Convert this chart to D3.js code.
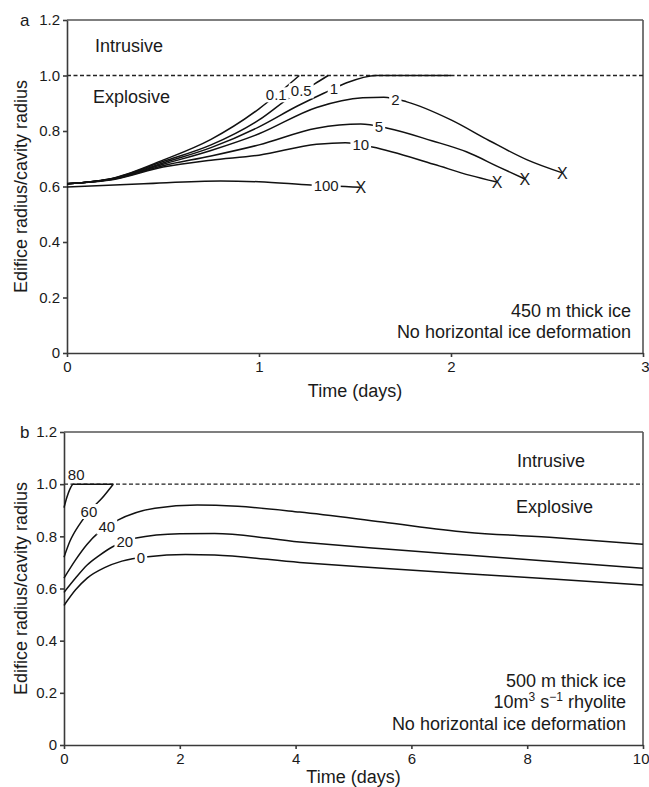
<!DOCTYPE html>
<meta charset="utf-8">
<style>
body { margin: 0; background: #fff; }
text { font-family: "Liberation Sans", Arial, Helvetica, sans-serif; fill: #1a1a1a; }
.axis path, .axis line { stroke: #3a3a3a; stroke-width: 1.6px; }
.axis text { font-size: 15px; fill: #1a1a1a; }
.frame { stroke: #555; stroke-width: 1.6px; }
.curve { fill: none; stroke: #111; stroke-width: 1.5px; }
.limit { stroke: #222; stroke-width: 1.3px; stroke-dasharray: 4,2.5; }
.clabel { font-size: 15px; text-anchor: middle; }
.note { font-size: 18px; }
</style>
<svg width="649" height="787"></svg>
<script src="https://cdn.jsdelivr.net/npm/d3@7"></script>
<script>

// panel a: 450 m ice, curves labelled by parameter value
var namesA = ["0.1", "0.5", "1", "2", "5", "10", "100"];
var a01  = [[0,0.61],[0.25,0.632],[0.5,0.695],[0.75,0.77],[1.0,0.88],[1.1,0.935],[1.21,1.0]];
var a05  = [[0,0.61],[0.25,0.631],[0.5,0.69],[0.75,0.75],[1.0,0.84],[1.17,0.925],[1.29,0.97],[1.36,1.0]];
var a1   = [[0,0.61],[0.25,0.63],[0.5,0.685],[0.75,0.74],[1.0,0.815],[1.2,0.89],[1.34,0.937],[1.45,0.972],[1.61,1.0],[2.0,1.0]];
var a2   = [[0,0.61],[0.25,0.629],[0.5,0.68],[0.75,0.73],[1.0,0.79],[1.3,0.885],[1.54,0.92],[1.65,0.922],[1.77,0.905],[2.0,0.84],[2.2,0.765],[2.4,0.695],[2.58,0.649]];
var a5   = [[0,0.61],[0.25,0.628],[0.5,0.675],[0.75,0.71],[1.0,0.75],[1.3,0.81],[1.53,0.825],[1.67,0.81],[1.9,0.765],[2.08,0.725],[2.25,0.67],[2.385,0.627]];
var a10  = [[0,0.61],[0.25,0.626],[0.5,0.67],[0.75,0.695],[1.0,0.713],[1.3,0.752],[1.45,0.758],[1.59,0.742],[1.91,0.68],[2.1,0.64],[2.24,0.616]];
var a100 = [[0,0.598],[0.4,0.61],[0.8,0.62],[1.0,0.617],[1.27,0.605],[1.53,0.597]];
var labelTA = [1.09, 1.22, 1.39, 1.71, 1.625, 1.53, 1.35];
var endXA   = [false, false, false, true, true, true, true];

// panel b: 500 m ice, 10 m3/s rhyolite
var namesB = ["80", "60", "40", "20", "0"];
var b80 = [[0,0.91],[0.05,0.95],[0.1,0.98],[0.16,1.0],[0.85,1.0]];
var b60 = [[0,0.72],[0.1,0.78],[0.28,0.85],[0.45,0.9],[0.65,0.945],[0.85,1.0]];
var b40 = [[0,0.64],[0.2,0.71],[0.4,0.77],[0.6,0.815],[0.93,0.862],[1.57,0.908],[2.3,0.92],[3.0,0.915],[4.07,0.893],[5.5,0.855],[6.95,0.816],[8.5,0.795],[10,0.77]];
var b20 = [[0,0.585],[0.2,0.64],[0.4,0.69],[0.6,0.725],[0.84,0.76],[1.22,0.793],[2.0,0.81],[2.6,0.811],[4.07,0.778],[5.5,0.752],[6.95,0.728],[8.5,0.703],[10,0.678]];
var b0  = [[0,0.535],[0.2,0.595],[0.4,0.64],[0.7,0.68],[1.0,0.705],[1.45,0.722],[2.1,0.73],[2.6,0.728],[4.07,0.70],[5.5,0.678],[6.95,0.657],[8.5,0.635],[10,0.613]];
var labelTB = [0.21, 0.43, 0.74, 1.05, 1.33];

var yTicks = [0, 0.2, 0.4, 0.6, 0.8, 1.0, 1.2];
var xTicksA = [0, 1, 2, 3];
var xTicksB = [0, 2, 4, 6, 8, 10];

var svg = d3.select("svg");

// value of a polyline at t (for placing the curve labels)
function valueAt(pts, t) {
  for (var i = 1; i < pts.length; i++) {
    if (t <= pts[i][0]) {
      var p = pts[i - 1], q = pts[i], f = (t - p[0]) / (q[0] - p[0]);
      return p[1] + f * (q[1] - p[1]);
    }
  }
  return pts[pts.length - 1][1];
}

function panel(o) {
  var x = d3.scaleLinear().domain([0, o.xMax]).range([o.left, o.right]),
      y = d3.scaleLinear().domain([0, 1.2]).range([o.bottom, o.top]);
  var g = svg.append("g");

  // frame (top + right)
  g.append("line").attr("class", "frame")
      .attr("x1", o.left).attr("x2", o.right).attr("y1", o.top).attr("y2", o.top);
  g.append("line").attr("class", "frame")
      .attr("x1", o.right).attr("x2", o.right).attr("y1", o.top).attr("y2", o.bottom);

  g.append("line").attr("class", "limit")
      .attr("x1", o.left).attr("x2", o.right).attr("y1", y(1)).attr("y2", y(1));

  g.append("g").attr("class", "axis")
      .attr("transform", "translate(" + o.left + ",0)")
      .call(d3.axisLeft(y).tickValues(yTicks).tickSize(4).tickSizeOuter(0).tickPadding(3)
        .tickFormat(function(d) { return d === 0 ? "0" : d3.format(".1f")(d); }));
  var xa = g.append("g").attr("class", "axis")
      .attr("transform", "translate(0," + o.bottom + ")")
      .call(d3.axisBottom(x).tickValues(o.xTicks).tickSize(4).tickSizeOuter(0).tickPadding(4)
        .tickFormat(d3.format("d")));
  // keep the last tick label inside the page
  xa.selectAll(".tick:last-of-type text").attr("text-anchor", "end").attr("x", 649 - o.right);

  var line = d3.line()
      .x(function(d) { return x(d[0]); })
      .y(function(d) { return y(d[1]); })
      .curve(d3.curveMonotoneX);

  g.selectAll(".curve").data(o.series).enter().append("path")
      .attr("class", "curve")
      .attr("d", line);

  g.selectAll(".xmark").data(o.series.filter(function(d, i) { return o.endX && o.endX[i]; }))
    .enter().append("text")
      .attr("class", "xmark")
      .attr("x", function(d) { return x(d[d.length - 1][0]); })
      .attr("y", function(d) { return y(d[d.length - 1][1]); })
      .attr("dy", "0.36em")
      .attr("text-anchor", "middle")
      .style("font-size", "16px")
      .text("X");

  var lab = g.selectAll(".clab").data(o.names).enter().append("g")
      .attr("class", "clab")
      .attr("transform", function(d, i) {
        var v = valueAt(o.series[i], o.labelT[i]);
        return "translate(" + x(o.labelT[i]) + "," + (v >= 1 ? y(1) - 9 : y(v)) + ")";
      });
  lab.append("rect").attr("fill", "#fff");
  lab.append("text").attr("class", "clabel").attr("dy", "0.35em")
      .text(function(d) { return d; });
  lab.each(function(d, i) {
    var v = valueAt(o.series[i], o.labelT[i]);
    var b = d3.select(this).select("text").node().getBBox();
    if (v < 1) d3.select(this).select("rect")
        .attr("x", b.x - 2).attr("y", b.y + 1).attr("width", b.width + 4).attr("height", b.height - 2);
  });

  g.append("text").attr("class", "note")
      .attr("x", 20).attr("y", o.top + 6).style("font-size", "17px").text(o.tag);

  g.append("text").attr("class", "note")
      .attr("transform", "translate(27," + (o.top + o.bottom) / 2 + ") rotate(-90)")
      .attr("text-anchor", "middle")
      .text("Edifice radius/cavity radius");

  g.append("text").attr("class", "note")
      .attr("x", (o.left + o.right) / 2).attr("y", o.bottom + o.titleGap)
      .attr("text-anchor", "middle")
      .text("Time (days)");

  return {g: g, x: x, y: y};
}

var pa = panel({
  left: 67, right: 643, top: 20, bottom: 353, xMax: 3, xTicks: xTicksA, titleGap: 44,
  series: [a01, a05, a1, a2, a5, a10, a100], names: namesA, labelT: labelTA, endX: endXA, tag: "a"
});

pa.g.append("text").attr("class", "note").attr("x", 95).attr("y", 52).text("Intrusive");
pa.g.append("text").attr("class", "note").attr("x", 93).attr("y", 103).text("Explosive");
pa.g.append("text").attr("class", "note").attr("x", 631).attr("y", 317)
    .attr("text-anchor", "end").text("450 m thick ice");
pa.g.append("text").attr("class", "note").attr("x", 631).attr("y", 338)
    .attr("text-anchor", "end").text("No horizontal ice deformation");

var pb = panel({
  left: 64, right: 643, top: 432, bottom: 745, xMax: 10, xTicks: xTicksB, titleGap: 38,
  series: [b80, b60, b40, b20, b0], names: namesB, labelT: labelTB, tag: "b"
});

pb.g.append("text").attr("class", "note").attr("x", 517).attr("y", 467).text("Intrusive");
pb.g.append("text").attr("class", "note").attr("x", 516).attr("y", 513).text("Explosive");
pb.g.append("text").attr("class", "note").attr("x", 626).attr("y", 687)
    .attr("text-anchor", "end").text("500 m thick ice");
var rate = pb.g.append("text").attr("class", "note").attr("x", 626).attr("y", 708)
    .attr("text-anchor", "end");
rate.append("tspan").text("10m");
rate.append("tspan").attr("dy", -7).style("font-size", "12px").text("3");
rate.append("tspan").attr("dy", 7).text(" s");
rate.append("tspan").attr("dy", -7).style("font-size", "12px").text("\u22121");
rate.append("tspan").attr("dy", 7).text(" rhyolite");
pb.g.append("text").attr("class", "note").attr("x", 626).attr("y", 730)
    .attr("text-anchor", "end").text("No horizontal ice deformation");

</script>
